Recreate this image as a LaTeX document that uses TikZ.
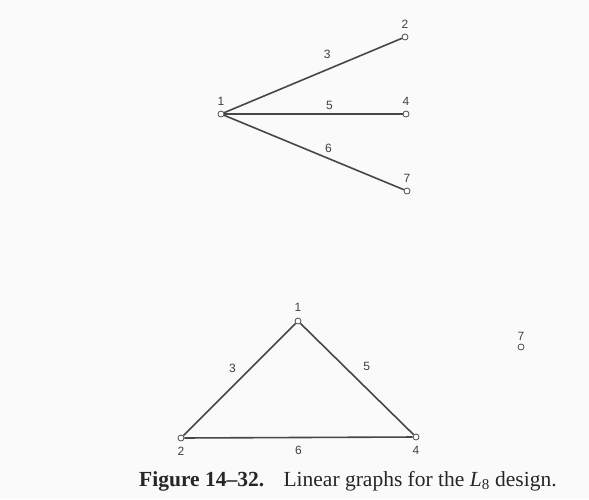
\documentclass[tikz,border=0pt]{standalone}
\usepackage{fontspec}
\setmainfont{Liberation Serif}
\newfontfamily\graphfont{Liberation Sans}
\usepackage{tikz}
\usetikzlibrary{positioning}

\begin{document}
\begin{tikzpicture}[
  x=1pt, y=-1pt,
  vertex/.style={draw=black!70, circle, inner sep=0pt, minimum size=6pt, fill=white, line width=0.8pt},
  link/.style={line width=1.6pt, black!72},
  lbl/.style={font=\graphfont\fontsize{12}{12}\selectfont, text=black!75, inner sep=1pt},
  caption/.style={font=\fontsize{21.5}{24}\selectfont, text=black!85, anchor=base west, inner sep=0pt}
]
\fill[black!2] (0,0) rectangle (589,499);
\useasboundingbox (0,0) rectangle (589,499);

% L8 linear graph, star form
\node[vertex, label={[lbl, label distance=4pt]above:1}] (a1) at (221,114) {};
\node[vertex, label={[lbl, label distance=4pt]above:2}] (a2) at (405,37) {};
\node[vertex, label={[lbl, label distance=4pt]above:4}] (a4) at (406,114) {};
\node[vertex, label={[lbl, label distance=4pt]above:7}] (a7) at (407,191) {};

\draw[link] (a1) -- node[lbl, pos=0.58, above=9pt] (a13) {3} (a2);
\draw[link] (a1) -- node[lbl, pos=0.59, above=3pt] (a15) {5} (a4);
\draw[link] (a1) -- node[lbl, pos=0.58, above=4pt] (a16) {6} (a7);

% L8 linear graph, triangle form
\node[vertex, label={[lbl, label distance=5pt]above:1}] (b1) at (298,321) {};
\node[vertex, label={[lbl, label distance=5pt]below:2}] (b2) at (181,438) {};
\node[vertex, label={[lbl, label distance=5pt]below:4}] (b4) at (416,437) {};
\node[vertex, label={[lbl, label distance=2pt]above:7}] (b7) at (521,347) {};

\draw[link] (b1) -- node[lbl, pos=0.4, left=13pt] (b13) {3} (b2);
\draw[link] (b1) -- node[lbl, pos=0.39, right=17pt] (b15) {5} (b4);
\draw[link] (b2) -- node[lbl, pos=0.5, below=7pt] (b16) {6} (b4);

\node[caption] (cap) at (139,486) {\textbf{Figure 14--32.}\hspace{0.9em}Linear graphs for the \textit{L}\textsubscript{8} design.};
\end{tikzpicture}
\end{document}
